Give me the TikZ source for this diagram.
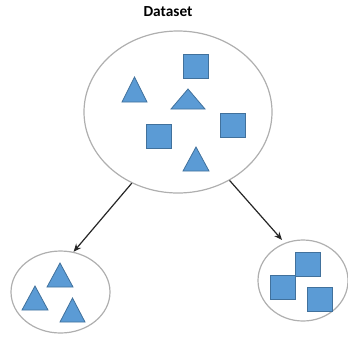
\documentclass[tikz,border=0pt]{standalone}
\usepackage{fontspec}
\setmainfont{Carlito}
\usetikzlibrary{shapes.geometric,arrows.meta}
\definecolor{shapeblue}{RGB}{91,155,213}
\definecolor{shapeedge}{RGB}{65,113,156}
\definecolor{ringgray}{RGB}{175,175,175}
\tikzset{
  ring/.style={ellipse,draw=ringgray,line width=0.9pt,inner sep=0pt},
  item/.style={fill=shapeblue,draw=shapeedge,line width=0.6pt,line join=miter},
  split/.style={-{Stealth[length=6pt,width=5pt]},line width=0.9pt,black!85}
}
\begin{document}
\begin{tikzpicture}[x=0.75pt,y=-0.75pt]
\useasboundingbox (0,0) rectangle (348,336);
% sets
\node[ring,minimum width=141pt,minimum height=121.5pt] (data) at (178,112) {};
\node[ring,minimum width=74.25pt,minimum height=61.5pt] (tris) at (60.5,292) {};
\node[ring,minimum width=67.5pt,minimum height=60.75pt] (sqs) at (303,280.5) {};
\node[font=\fontsize{11.5}{13}\selectfont\bfseries] (title) at (168,12) {Dataset};
% triangles: centre x, base y, half width, height
\foreach \cx/\by/\hw/\h in {134.5/102/12.5/25, 188/109/17/20, 196/171/13/24,
    60/287/13/24, 35/310/13/24, 72.5/322/12.5/24}
  \draw[item] (\cx-\hw,\by) -- (\cx+\hw,\by) -- (\cx,\by-\h) -- cycle;
% squares: top left corner
\foreach \x/\y in {183/54, 220/113, 146/124, 295/252, 270/275, 307/287}
  \draw[item] (\x,\y) rectangle ++(25,24);
% arrows
\draw[split] (data.237.6) -- (tris.72.6);
\draw[split,shorten >=3pt] (data.307) -- (sqs.116);
\end{tikzpicture}
\end{document}
